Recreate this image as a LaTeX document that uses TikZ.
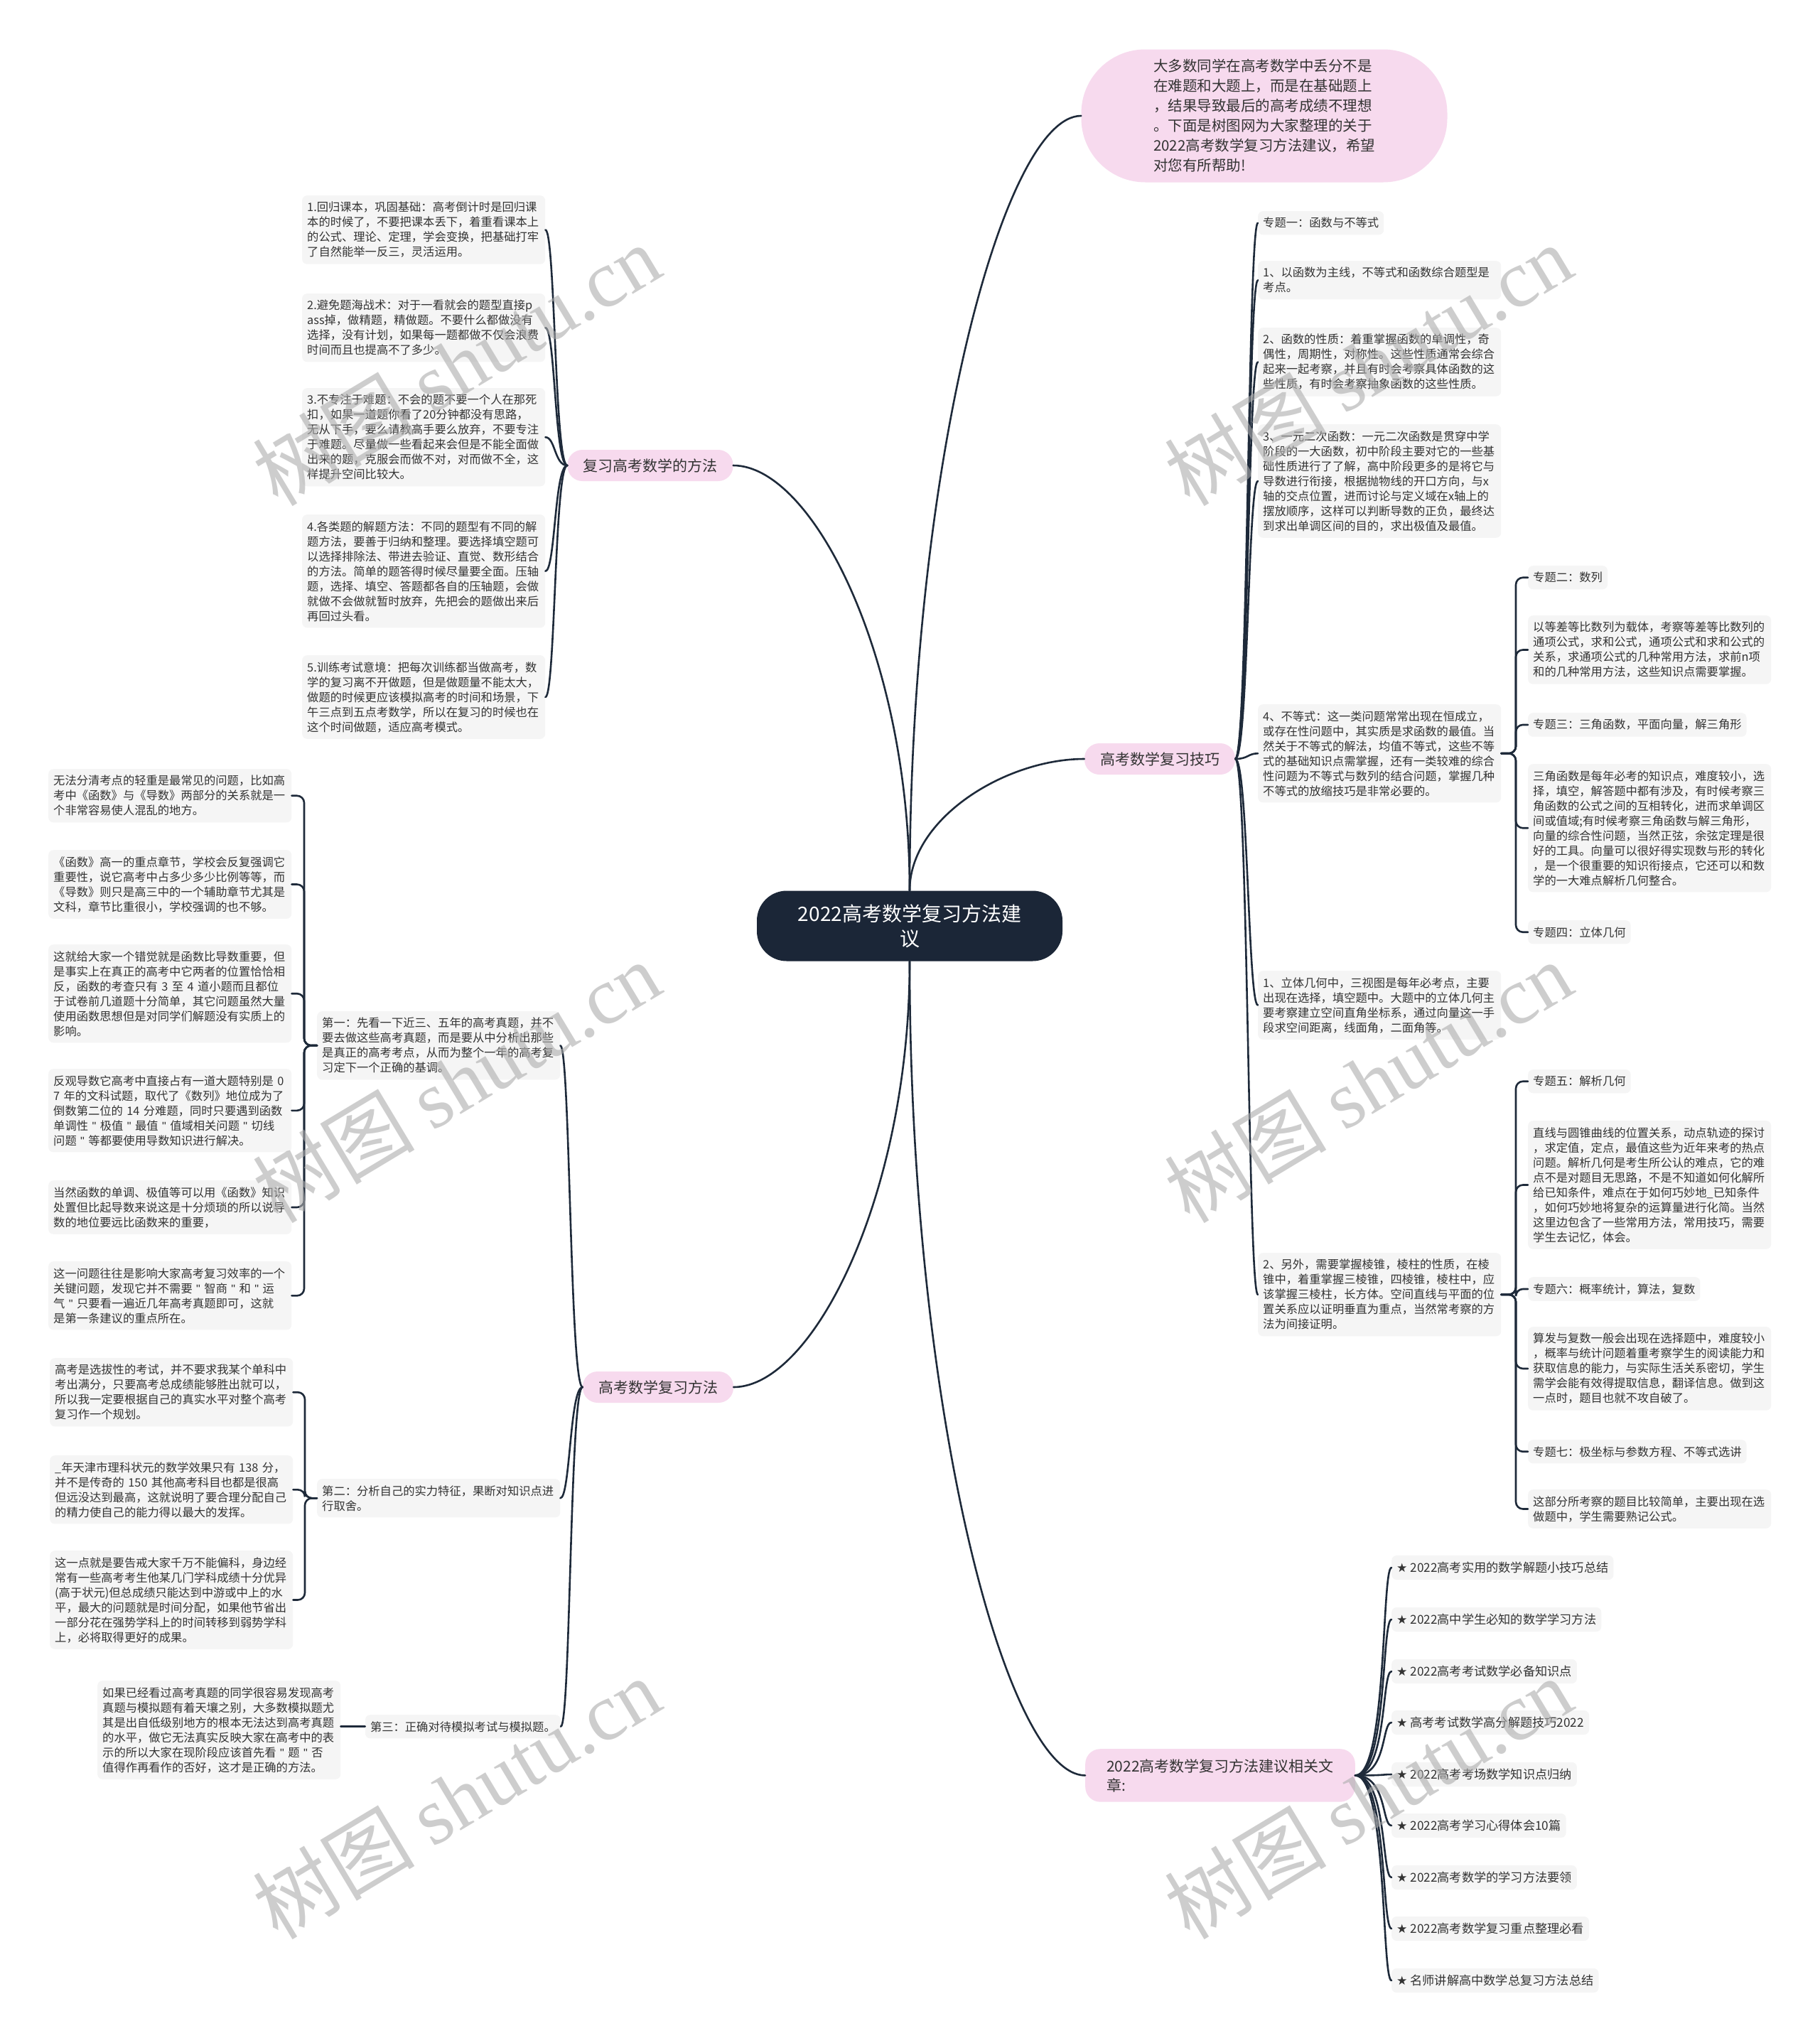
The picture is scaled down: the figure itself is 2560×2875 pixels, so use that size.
\documentclass[tikz,border=0pt]{standalone}
\usepackage{fontspec}
\setmainfont{Noto Sans CJK SC}
\newfontfamily\starfont{DejaVu Sans}
\newfontfamily\wmfont{Liberation Serif}
\newfontfamily\latinfont{Liberation Sans}
\newcommand\qq{{\latinfont"}}
\usetikzlibrary{calc}
\setlength\parindent{0pt}
\definecolor{navy}{HTML}{1B2637}
\definecolor{pinkb}{HTML}{F7DAEE}
\definecolor{leafg}{HTML}{F5F5F5}
\definecolor{txt}{HTML}{333333}
\definecolor{linec}{HTML}{1E2A3A}
\tikzset{
  leaf/.style={fill=leafg, rounded corners=7pt, inner xsep=7pt, inner ysep=9pt, text width=328pt, align=left, font=\fontsize{16.3}{21}\selectfont, text=txt},
  tag/.style={fill=leafg, rounded corners=7pt, inner xsep=7pt, inner ysep=9pt, font=\fontsize{16.3}{21}\selectfont, text=txt},
  reltag/.style={tag, font=\fontsize{17.2}{21}\selectfont},
  branch/.style={fill=pinkb, rounded corners=21pt, inner xsep=22pt, minimum height=44pt, font=\fontsize{21}{27}\selectfont, text=txt},
  conn/.style={draw=linec, line width=2.6pt, line cap=round},
  wm/.style={rotate=31, text=black!32, opacity=0.6, font=\fontsize{114}{114}\selectfont},
}
\newcommand\qcurve[2]{\draw[conn] let \p1=(#1), \p2=(#2) in (\p1) .. controls (\x1,{\y1+0.55*((\y2)-(\y1))}) and ({\x1+0.55*((\x2)-(\x1))},\y2) .. (\p2);}
\newcommand\hcurve[4]{\draw[conn] let \p1=(#1), \p2=(#2) in (\p1) .. controls ({\x1+(#3)},\y1) and ({\x2+(#4)},\y2) .. (\p2);}
\newcommand\bracket[3]{\draw[conn, rounded corners=10pt] let \p1=(#1), \p2=(#2) in (\p1) -- (#3pt,\y1) -- (#3pt,\y2) -- (\p2);}
\begin{document}
\begin{tikzpicture}[x=1pt,y=-1pt]
\fill[white] (0,0) rectangle (2560,2875);
\useasboundingbox (0,0) rectangle (2560,2875);

% center
\node[fill=navy, text=white, rounded corners=42pt, minimum width=430pt, minimum height=99pt, align=center, font=\fontsize{28}{35}\selectfont] (c) at (1280,1303) {2022高考数学复习方法建\\议};

% branches
\node[branch] (br1) at (915,655) {复习高考数学的方法};
\node[branch] (br2) at (926,1952) {高考数学复习方法};
\node[branch] (br3) at (1632,1068) {高考数学复习技巧};
\node[branch, anchor=north west, align=left, inner ysep=14pt, inner xsep=30pt] (br4) at (1527,2461) {2022高考数学复习方法建议相关文\\章:};
\node[fill=pinkb, rounded corners=90pt, minimum width=515pt, minimum height=187pt, align=left, font=\fontsize{20.5}{28}\selectfont, text=txt] (intro) at (1779,163) {大多数同学在高考数学中丢分不是\\在难题和大题上，而是在基础题上\\，结果导致最后的高考成绩不理想\\。下面是树图网为大家整理的关于\\2022高考数学复习方法建议，希望\\对您有所帮助!};

% branch 1 leaves
\node[leaf, anchor=north west] (b1a) at (425,275) {1.回归课本，巩固基础：高考倒计时是回归课\\本的时候了，不要把课本丢下，着重看课本上\\的公式、理论、定理，学会变换，把基础打牢\\了自然能举一反三，灵活运用。};
\node[leaf, anchor=north west] (b1b) at (425,413) {2.避免题海战术：对于一看就会的题型直接p\\ass掉，做精题，精做题。不要什么都做没有\\选择，没有计划，如果每一题都做不仅会浪费\\时间而且也提高不了多少。};
\node[leaf, anchor=north west] (b1c) at (425,546) {3.不专注于难题：不会的题不要一个人在那死\\扣，如果一道题你看了20分钟都没有思路，\\无从下手，要么请教高手要么放弃，不要专注\\于难题。尽量做一些看起来会但是不能全面做\\出来的题，克服会而做不对，对而做不全，这\\样提升空间比较大。};
\node[leaf, anchor=north west] (b1d) at (425,724) {4.各类题的解题方法：不同的题型有不同的解\\题方法，要善于归纳和整理。要选择填空题可\\以选择排除法、带进去验证、直觉、数形结合\\的方法。简单的题答得时候尽量要全面。压轴\\题，选择、填空、答题都各自的压轴题，会做\\就做不会做就暂时放弃，先把会的题做出来后\\再回过头看。};
\node[leaf, anchor=north west] (b1e) at (425,922) {5.训练考试意境：把每次训练都当做高考，数\\学的复习离不开做题，但是做题量不能太大，\\做题的时候更应该模拟高考的时间和场景，下\\午三点到五点考数学，所以在复习的时候也在\\这个时间做题，适应高考模式。};

% branch 2
\node[leaf, anchor=north west] (f1) at (446,1423) {第一：先看一下近三、五年的高考真题，并不\\要去做这些高考真题，而是要从中分析出那些\\是真正的高考考点，从而为整个一年的高考复\\习定下一个正确的基调。};
\node[leaf, anchor=north west] (f2) at (446,2081) {第二：分析自己的实力特征，果断对知识点进\\行取舍。};
\node[tag, anchor=north east] (f3) at (789,2413) {第三：正确对待模拟考试与模拟题。};

\node[leaf, anchor=north west] (L1) at (68,1082) {无法分清考点的轻重是最常见的问题，比如高\\考中《函数》与《导数》两部分的关系就是一\\个非常容易使人混乱的地方。};
\node[leaf, anchor=north west] (L2) at (68,1196) {《函数》高一的重点章节，学校会反复强调它\\重要性，说它高考中占多少多少比例等等，而\\《导数》则只是高三中的一个辅助章节尤其是\\文科，章节比重很小，学校强调的也不够。};
\node[leaf, anchor=north west] (L3) at (68,1329) {这就给大家一个错觉就是函数比导数重要，但\\是事实上在真正的高考中它两者的位置恰恰相\\反，函数的考查只有 3 至 4 道小题而且都位\\于试卷前几道题十分简单，其它问题虽然大量\\使用函数思想但是对同学们解题没有实质上的\\影响。};
\node[leaf, anchor=north west] (L4) at (68,1504) {反观导数它高考中直接占有一道大题特别是 0\\7 年的文科试题，取代了《数列》地位成为了\\倒数第二位的 14 分难题，同时只要遇到函数\\\mbox{单调性 \qq{} 极值 \qq{} 最值 \qq{} 值域相关问题 \qq{} 切线}\\问题 \qq{} 等都要使用导数知识进行解决。};
\node[leaf, anchor=north west] (L5) at (68,1661) {当然函数的单调、极值等可以用《函数》知识\\处置但比起导数来说这是十分烦琐的所以说导\\数的地位要远比函数来的重要，};
\node[leaf, anchor=north west] (L6) at (68,1775) {这一问题往往是影响大家高考复习效率的一个\\\mbox{关键问题，发现它并不需要 \qq{} 智商 \qq{} 和 \qq{} 运}\\\mbox{气 \qq{} 只要看一遍近几年高考真题即可，这就}\\是第一条建议的重点所在。};

\node[leaf, anchor=north west] (M1) at (70,1911) {高考是选拔性的考试，并不要求我某个单科中\\考出满分，只要高考总成绩能够胜出就可以，\\所以我一定要根据自己的真实水平对整个高考\\复习作一个规划。};
\node[leaf, anchor=north west] (M2) at (70,2048) {\_年天津市理科状元的数学效果只有 138 分，\\并不是传奇的 150 其他高考科目也都是很高\\但远没达到最高，这就说明了要合理分配自己\\的精力使自己的能力得以最大的发挥。};
\node[leaf, anchor=north west] (M3) at (70,2182) {这一点就是要告戒大家千万不能偏科，身边经\\常有一些高考考生他某几门学科成绩十分优异\\(高于状元)但总成绩只能达到中游或中上的水\\平，最大的问题就是时间分配，如果他节省出\\一部分花在强势学科上的时间转移到弱势学科\\上，必将取得更好的成果。};

\node[leaf, anchor=north west] (N1) at (137,2365) {如果已经看过高考真题的同学很容易发现高考\\真题与模拟题有着天壤之别，大多数模拟题尤\\其是出自低级别地方的根本无法达到高考真题\\的水平，做它无法真实反映大家在高考中的表\\\mbox{示的所以大家在现阶段应该首先看 \qq{} 题 \qq{} 否}\\值得作再看作的否好，这才是正确的方法。};

% branch 3
\node[tag, anchor=north west] (R1) at (1770,297) {专题一：函数与不等式};
\node[leaf, anchor=north west] (R2) at (1770,367) {1、以函数为主线，不等式和函数综合题型是\\考点。};
\node[leaf, anchor=north west] (R3) at (1770,461) {2、函数的性质：着重掌握函数的单调性，奇\\偶性，周期性，对称性。这些性质通常会综合\\起来一起考察，并且有时会考察具体函数的这\\些性质，有时会考察抽象函数的这些性质。};
\node[leaf, anchor=north west] (R4) at (1770,597) {3、一元二次函数：一元二次函数是贯穿中学\\阶段的一大函数，初中阶段主要对它的一些基\\础性质进行了了解，高中阶段更多的是将它与\\导数进行衔接，根据抛物线的开口方向，与x\\轴的交点位置，进而讨论与定义域在x轴上的\\摆放顺序，这样可以判断导数的正负，最终达\\到求出单调区间的目的，求出极值及最值。};
\node[leaf, anchor=north west] (R5) at (1770,991) {4、不等式：这一类问题常常出现在恒成立，\\或存在性问题中，其实质是求函数的最值。当\\然关于不等式的解法，均值不等式，这些不等\\式的基础知识点需掌握，还有一类较难的综合\\性问题为不等式与数列的结合问题，掌握几种\\不等式的放缩技巧是非常必要的。};
\node[leaf, anchor=north west] (R6) at (1770,1366) {1、立体几何中，三视图是每年必考点，主要\\出现在选择，填空题中。大题中的立体几何主\\要考察建立空间直角坐标系，通过向量这一手\\段求空间距离，线面角，二面角等。};
\node[leaf, anchor=north west] (R7) at (1770,1763) {2、另外，需要掌握棱锥，棱柱的性质，在棱\\锥中，着重掌握三棱锥，四棱锥，棱柱中，应\\该掌握三棱柱，长方体。空间直线与平面的位\\置关系应以证明垂直为重点，当然常考察的方\\法为间接证明。};

\node[tag, anchor=north west] (S1) at (2150,796) {专题二：数列};
\node[leaf, anchor=north west] (S2) at (2150,866) {以等差等比数列为载体，考察等差等比数列的\\通项公式，求和公式，通项公式和求和公式的\\关系，求通项公式的几种常用方法，求前n项\\和的几种常用方法，这些知识点需要掌握。};
\node[tag, anchor=north west] (S3) at (2150,1003) {专题三：三角函数，平面向量，解三角形};
\node[leaf, anchor=north west] (S4) at (2150,1075) {三角函数是每年必考的知识点，难度较小，选\\择，填空，解答题中都有涉及，有时候考察三\\角函数的公式之间的互相转化，进而求单调区\\间或值域;有时候考察三角函数与解三角形，\\向量的综合性问题，当然正弦，余弦定理是很\\好的工具。向量可以很好得实现数与形的转化\\，是一个很重要的知识衔接点，它还可以和数\\学的一大难点解析几何整合。};
\node[tag, anchor=north west] (S5) at (2150,1295) {专题四：立体几何};

\node[tag, anchor=north west] (T1) at (2150,1505) {专题五：解析几何};
\node[leaf, anchor=north west] (T2) at (2150,1577) {直线与圆锥曲线的位置关系，动点轨迹的探讨\\，求定值，定点，最值这些为近年来考的热点\\问题。解析几何是考生所公认的难点，它的难\\点不是对题目无思路，不是不知道如何化解所\\给已知条件，难点在于如何巧妙地\_已知条件\\，如何巧妙地将复杂的运算量进行化简。当然\\这里边包含了一些常用方法，常用技巧，需要\\学生去记忆，体会。};
\node[tag, anchor=north west] (T3) at (2150,1797) {专题六：概率统计，算法，复数};
\node[leaf, anchor=north west] (T4) at (2150,1867) {算发与复数一般会出现在选择题中，难度较小\\，概率与统计问题着重考察学生的阅读能力和\\获取信息的能力，与实际生活关系密切，学生\\需学会能有效得提取信息，翻译信息。做到这\\一点时，题目也就不攻自破了。};
\node[tag, anchor=north west] (T5) at (2150,2026) {专题七：极坐标与参数方程、不等式选讲};
\node[leaf, anchor=north west] (T6) at (2150,2096) {这部分所考察的题目比较简单，主要出现在选\\做题中，学生需要熟记公式。};

% related
\node[reltag, anchor=west] (rel1) at (1958,2206) {{\starfont ★} 2022高考实用的数学解题小技巧总结};
\node[reltag, anchor=west] (rel2) at (1958,2279) {{\starfont ★} 2022高中学生必知的数学学习方法};
\node[reltag, anchor=west] (rel3) at (1958,2352) {{\starfont ★} 2022高考考试数学必备知识点};
\node[reltag, anchor=west] (rel4) at (1958,2424) {{\starfont ★} 高考考试数学高分解题技巧2022};
\node[reltag, anchor=west] (rel5) at (1958,2497) {{\starfont ★} 2022高考考场数学知识点归纳};
\node[reltag, anchor=west] (rel6) at (1958,2569) {{\starfont ★} 2022高考学习心得体会10篇};
\node[reltag, anchor=west] (rel7) at (1958,2642) {{\starfont ★} 2022高考数学的学习方法要领};
\node[reltag, anchor=west] (rel8) at (1958,2714) {{\starfont ★} 2022高考数学复习重点整理必看};
\node[reltag, anchor=west] (rel9) at (1958,2787) {{\starfont ★} 名师讲解高中数学总复习方法总结};

% connectors from center
\qcurve{c.north}{br1.east}
\qcurve{c.north}{intro.west}
\qcurve{c.north}{br3.west}
\qcurve{c.south}{br2.east}
\qcurve{c.south}{br4.west}

% branch 1
\foreach \nd in {b1a,b1b,b1c,b1d,b1e}{\hcurve{br1.west}{\nd.east}{-18}{14}}
% branch 2
\foreach \nd in {f1,f2,f3}{\hcurve{br2.west}{\nd.east}{-18}{14}}
\foreach \nd in {L1,L2,L3,L4,L5,L6}{\bracket{f1.west}{\nd.east}{428}}
\foreach \nd in {M1,M2,M3}{\bracket{f2.west}{\nd.east}{429}}
\draw[conn] (f3.west) -- (N1.east |- f3.west);
% branch 3
\foreach \nd in {R1,R2,R3,R4,R5,R6,R7}{\hcurve{br3.east}{\nd.west}{18}{-14}}
\foreach \nd in {S1,S2,S3,S4,S5}{\bracket{R5.east}{\nd.west}{2133}}
\foreach \nd in {T1,T2,T3,T4,T5,T6}{\bracket{R7.east}{\nd.west}{2133}}
% related
\foreach \nd in {rel1,rel2,rel3,rel4,rel5,rel6,rel7,rel8,rel9}{\hcurve{br4.east}{\nd.west}{45}{-14}}

% watermarks
\foreach \px/\py in {642/513,1925/513,642/1522,1925/1522,642/2530,1925/2530}{
  \node[wm] at (\px,\py) {树图 {\wmfont shutu.cn}};
}
\end{tikzpicture}
\end{document}
